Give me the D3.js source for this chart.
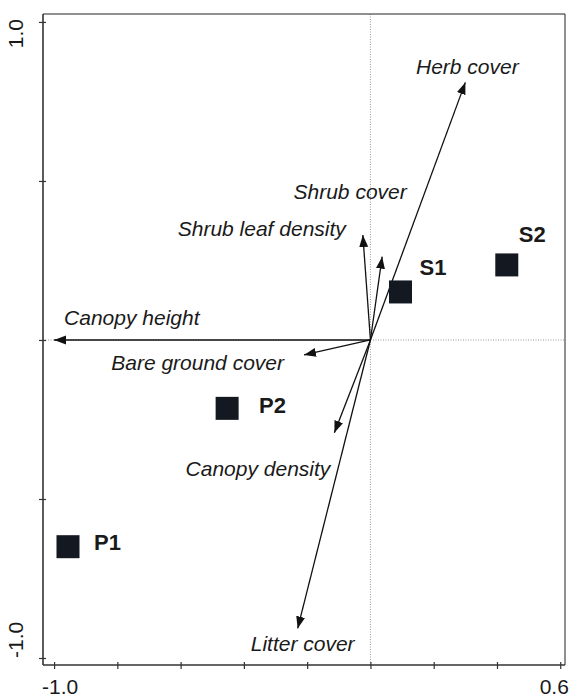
<!DOCTYPE html>
<html>
<head>
<meta charset="utf-8">
<script src="https://cdn.jsdelivr.net/npm/d3@7"></script>
<style>
  html, body { margin: 0; padding: 0; background: #fff; }
  svg { display: block; }
  text { font-family: "Liberation Sans", Arial, Helvetica, sans-serif; fill: #1a1a1a; }
</style>
</head>
<body>
<svg id="chart" width="569" height="698"></svg>
<script>
// Environmental variables (biplot arrows): ordination scores on axes 1 and 2
const variables = ["Herb cover", "Shrub cover", "Shrub leaf density", "Canopy height",
                   "Bare ground cover", "Canopy density", "Litter cover"];
const varAxis1 = [0.300, 0.037, -0.024, -1.000, -0.210, -0.114, -0.230];
const varAxis2 = [0.810, 0.262, 0.330, 0.000, -0.047, -0.292, -0.907];

// Sites (square markers)
const sites = ["S1", "S2", "P1", "P2"];
const siteAxis1 = [0.095, 0.431, -0.956, -0.453];
const siteAxis2 = [0.151, 0.236, -0.650, -0.215];

// Axis ticks and the two end labels on each axis
const xTicks = [-1.0, -0.8, -0.6, -0.4, -0.2, 0.0, 0.2, 0.4, 0.6];
const yTicks = [-1.0, -0.5, 0.0, 0.5, 1.0];
const xTickLabels = ["-1.0", "0.6"];
const yTickLabels = ["1.0", "-1.0"];

// Label placement (pixel offsets from arrow tip / marker centre)
const varLabelLayout = {
  "Herb cover":         { dx: 2,   dy: -8,  anchor: "middle" },
  "Shrub cover":        { dx: -32, dy: -58, anchor: "middle" },
  "Shrub leaf density": { dx: -17, dy: 1,   anchor: "end" },
  "Canopy height":      { dx: 10,  dy: -15, anchor: "start" },
  "Bare ground cover":  { dx: -20, dy: 15,  anchor: "end" },
  "Canopy density":     { dx: -4,  dy: 43,  anchor: "end" },
  "Litter cover":       { dx: 5,   dy: 23,  anchor: "middle" }
};
const siteLabelLayout = {
  "S1": { dx: 19, dy: -17 },
  "S2": { dx: 12, dy: -23 },
  "P1": { dx: 26, dy: 3 },
  "P2": { dx: 32, dy: 5 }
};

const svg = d3.select("#chart");
const plotLeft = 43, plotRight = 565, plotTop = 14, plotBottom = 665;

const x = d3.scaleLinear().domain([-1.035, 0.615]).range([plotLeft, plotRight]);
const y = d3.scaleLinear().domain([-1.022, 1.025]).range([plotBottom, plotTop]);

// Arrowhead marker
svg.append("defs").append("marker")
  .attr("id", "arrow")
  .attr("viewBox", "0 0 12 10")
  .attr("refX", 12).attr("refY", 5)
  .attr("markerWidth", 12).attr("markerHeight", 10)
  .attr("markerUnits", "userSpaceOnUse")
  .attr("orient", "auto")
  .append("path")
  .attr("d", "M0,0.5 L12,5 L0,9.5 Z")
  .attr("fill", "#111");

// Zero reference lines (dotted)
svg.append("line")
  .attr("x1", x(0)).attr("x2", x(0)).attr("y1", plotTop).attr("y2", plotBottom)
  .attr("stroke", "#9a9a9a").attr("stroke-width", 1).attr("stroke-dasharray", "1,1.5");
svg.append("line")
  .attr("x1", plotLeft).attr("x2", plotRight).attr("y1", y(0)).attr("y2", y(0))
  .attr("stroke", "#9a9a9a").attr("stroke-width", 1).attr("stroke-dasharray", "1,1.5");

// Frame: top and right
svg.append("path")
  .attr("d", `M${plotLeft},${plotTop} H${plotRight} V${plotBottom}`)
  .attr("fill", "none").attr("stroke", "#222").attr("stroke-width", 1);

// Bottom axis
const xAxis = d3.axisBottom(x).tickValues(xTicks).tickSize(3).tickFormat("");
const gx = svg.append("g").attr("transform", `translate(0,${plotBottom})`).call(xAxis);
gx.select(".domain").attr("d", `M${plotLeft},0H${plotRight}`).attr("stroke", "#333").attr("stroke-width", 1.6);
gx.selectAll(".tick line").attr("y1", -3).attr("y2", 4).attr("stroke", "#333").attr("stroke-width", 1.2);

// Left axis
const yAxis = d3.axisLeft(y).tickValues(yTicks).tickSize(3).tickFormat("");
const gy = svg.append("g").attr("transform", `translate(${plotLeft},0)`).call(yAxis);
gy.select(".domain").attr("d", `M0,${plotTop}V${plotBottom}`).attr("stroke", "#333").attr("stroke-width", 1.6);
gy.selectAll(".tick line").attr("x1", -4).attr("x2", 3).attr("stroke", "#333").attr("stroke-width", 1.2);

// End labels on the axes
svg.append("text").attr("x", x(-1.0) + 6).attr("y", 694)
  .attr("text-anchor", "middle").attr("font-size", 21).text(xTickLabels[0]);
svg.append("text").attr("x", x(0.6) - 6).attr("y", 694)
  .attr("text-anchor", "middle").attr("font-size", 21).text(xTickLabels[1]);
svg.append("text").attr("transform", `translate(23,${y(1.0) - 3}) rotate(-90)`)
  .attr("text-anchor", "end").attr("font-size", 21).text(yTickLabels[0]);
svg.append("text").attr("transform", `translate(23,${y(-1.0)}) rotate(-90)`)
  .attr("text-anchor", "start").attr("font-size", 21).text(yTickLabels[1]);

// Biplot arrows
const vars = variables.map((name, i) => ({ name, a1: varAxis1[i], a2: varAxis2[i] }));
svg.append("g").selectAll("line").data(vars).join("line")
  .attr("x1", x(0)).attr("y1", y(0))
  .attr("x2", d => x(d.a1)).attr("y2", d => y(d.a2))
  .attr("stroke", "#111").attr("stroke-width", 1.3)
  .attr("marker-end", "url(#arrow)");

svg.append("g").selectAll("text").data(vars).join("text")
  .attr("x", d => x(d.a1) + varLabelLayout[d.name].dx)
  .attr("y", d => y(d.a2) + varLabelLayout[d.name].dy)
  .attr("text-anchor", d => varLabelLayout[d.name].anchor)
  .attr("font-size", 21).attr("font-style", "italic")
  .text(d => d.name);

// Site markers
const siteData = sites.map((name, i) => ({ name, a1: siteAxis1[i], a2: siteAxis2[i] }));
const sq = 23;
svg.append("g").selectAll("rect").data(siteData).join("rect")
  .attr("x", d => x(d.a1) - sq / 2).attr("y", d => y(d.a2) - sq / 2)
  .attr("width", sq).attr("height", sq)
  .attr("fill", "#141821");

svg.append("g").selectAll("text").data(siteData).join("text")
  .attr("x", d => x(d.a1) + siteLabelLayout[d.name].dx)
  .attr("y", d => y(d.a2) + siteLabelLayout[d.name].dy)
  .attr("font-size", 22).attr("font-weight", "bold")
  .text(d => d.name);
</script>
</body>
</html>
